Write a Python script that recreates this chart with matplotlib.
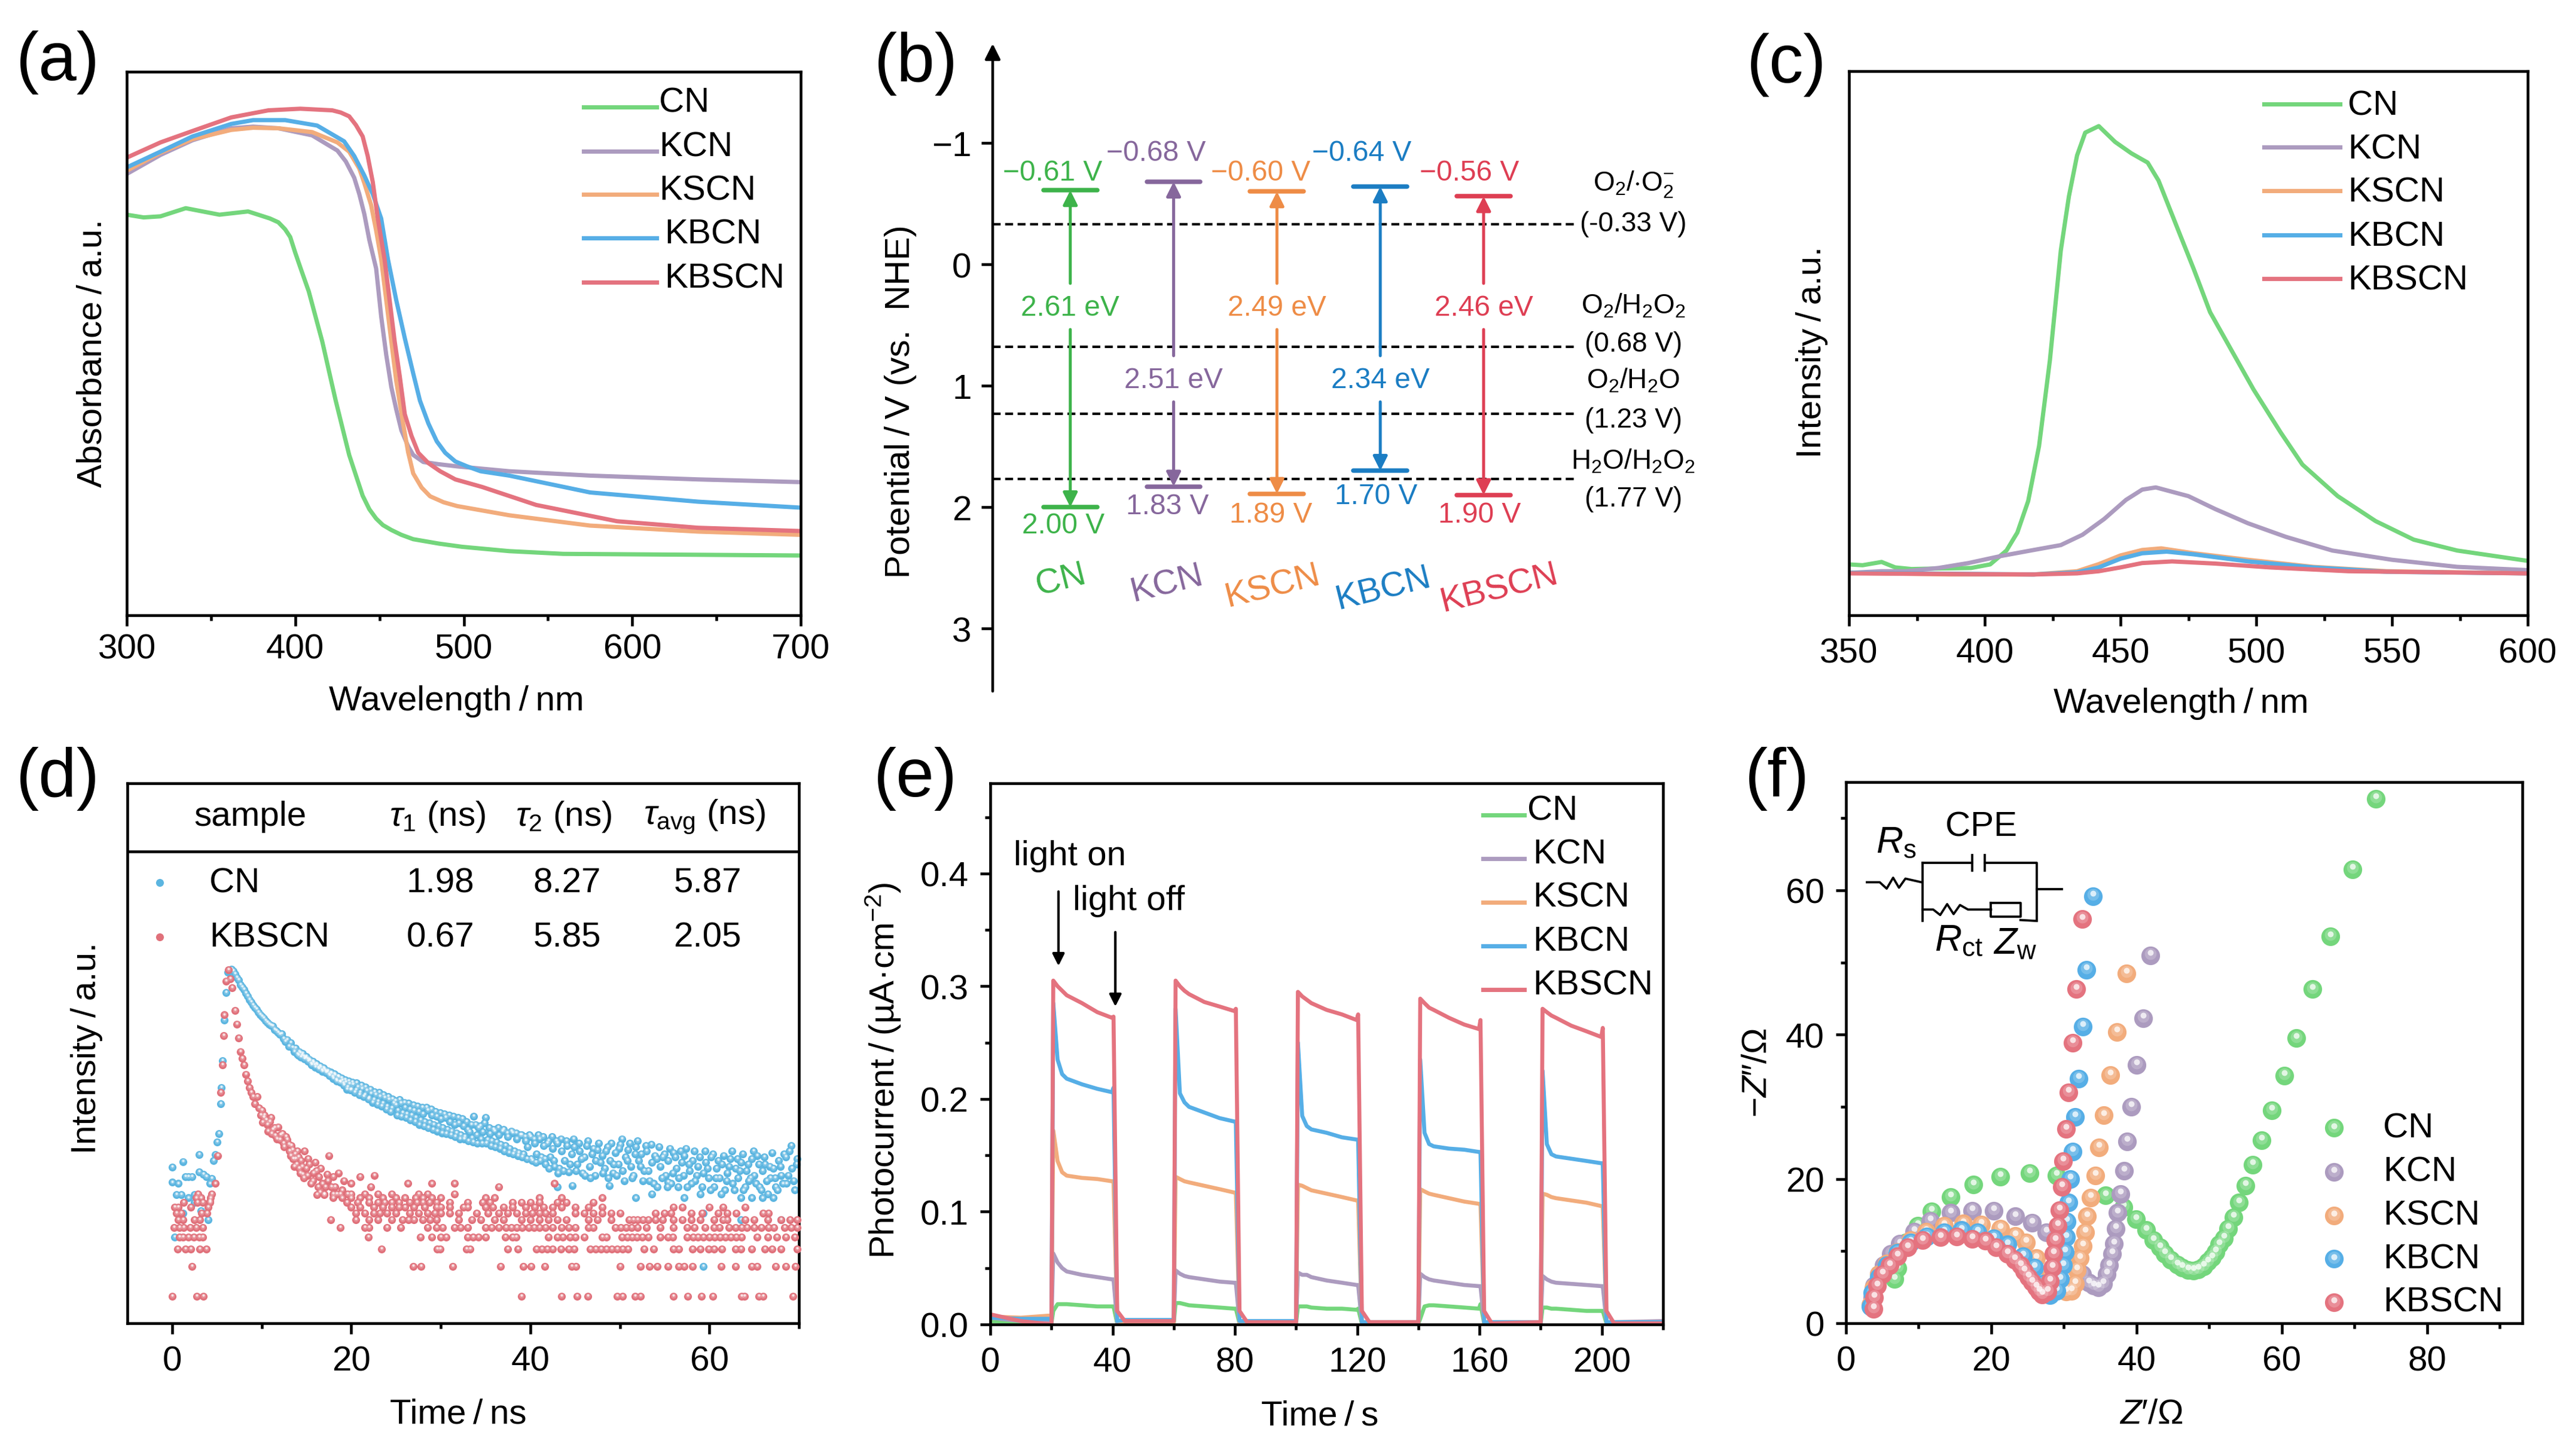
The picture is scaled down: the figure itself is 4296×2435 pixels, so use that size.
import matplotlib
matplotlib.use('Agg')
import matplotlib.pyplot as plt
from matplotlib.ticker import MultipleLocator, NullFormatter, NullLocator
from matplotlib.transforms import ScaledTranslation

plt.rcParams['font.family'] = ['Liberation Sans', 'DejaVu Sans']
plt.rcParams['font.size'] = 14
plt.rcParams['mathtext.fontset'] = 'custom'
plt.rcParams['mathtext.rm'] = 'Liberation Sans'
plt.rcParams['mathtext.it'] = 'Liberation Sans:italic'
plt.rcParams['mathtext.bf'] = 'Liberation Sans:bold'
plt.rcParams['axes.linewidth'] = 1.1

W, H = 4296, 2436
SAMPLES = ['CN', 'KCN', 'KSCN', 'KBCN', 'KBSCN']
LIGHT = ['#74D67C', '#AC9BBF', '#F2AC7C', '#56AEE6', '#E4737F']
DARK = ['#3DB34A', '#86679C', '#EE8C46', '#1B7DC3', '#DE3E53']

# (a) absorbance
abs_cn_x = [300, 310, 320, 335, 355, 372, 385, 390, 394, 397, 400, 403, 408, 416, 424, 432, 440, 444, 448, 452, 457, 463, 470, 485, 499, 527, 559, 607, 700]
abs_cn_y = [73.7, 73.2, 73.4, 74.9, 73.7, 74.3, 73.0, 72.3, 71.0, 69.6, 66.7, 64.0, 59.6, 50.4, 39.5, 29.5, 22.0, 19.5, 17.8, 16.6, 15.7, 14.8, 14.0, 13.2, 12.6, 11.8, 11.3, 11.2, 11.0]
abs_kcn_x = [300, 320, 339, 362, 375, 390, 410, 425, 430, 435, 438, 441, 444, 448, 451, 454, 457, 460, 463, 467, 470, 476, 485, 496, 527, 575, 639, 700]
abs_kcn_y = [81.2, 84.7, 87.4, 89.6, 89.9, 89.6, 88.3, 85.5, 83.5, 80.5, 77.5, 73.8, 69.0, 63.8, 55.0, 47.9, 42.0, 37.8, 34.0, 31.1, 29.5, 28.2, 27.8, 27.4, 26.5, 25.7, 25.0, 24.5]
abs_kscn_x = [300, 320, 339, 362, 375, 390, 410, 425, 432, 438, 441, 445, 448, 451, 454, 457, 460, 464, 467, 470, 475, 480, 488, 496, 527, 575, 639, 700]
abs_kscn_y = [81.8, 85.1, 87.6, 89.3, 89.7, 89.6, 88.9, 87.0, 85.3, 82.2, 79.5, 75.5, 70.8, 65.5, 58.0, 50.4, 43.0, 35.3, 30.0, 26.1, 23.5, 21.9, 20.8, 20.1, 18.4, 16.5, 15.4, 14.8]
abs_kbcn_x = [300, 320, 339, 362, 375, 394, 413, 429, 435, 441, 446, 451, 455, 460, 465, 470, 474, 479, 484, 489, 495, 502, 510, 527, 575, 639, 700]
abs_kbcn_y = [82.4, 85.3, 88.1, 90.4, 91.1, 91.1, 90.1, 87.2, 84.5, 80.9, 77.5, 73.0, 65.5, 57.9, 51.0, 44.5, 39.5, 35.3, 32.0, 29.9, 28.3, 27.4, 26.5, 25.7, 22.6, 20.9, 19.8]
abs_kbscn_x = [300, 320, 339, 362, 384, 403, 422, 427, 432, 436, 440, 443, 446, 449, 453, 456, 459, 462, 465, 469, 473, 479, 486, 495, 511, 543, 591, 639, 700]
abs_kbscn_y = [84.2, 87.0, 89.1, 91.6, 92.9, 93.2, 92.9, 92.5, 91.8, 90.2, 88.1, 84.5, 79.7, 73.0, 65.5, 58.0, 50.4, 44.0, 37.0, 33.0, 29.9, 28.0, 26.5, 25.0, 23.6, 20.3, 17.3, 16.1, 15.5]

# (b) band structure
cb_edge = [-0.61, -0.68, -0.60, -0.64, -0.56]
vb_edge = [2.00, 1.83, 1.89, 1.70, 1.90]
band_gap = ['2.61 eV', '2.51 eV', '2.49 eV', '2.34 eV', '2.46 eV']
redox_levels = [-0.33, 0.68, 1.23, 1.77]

# (c) PL
pl_cn_x = [350, 355, 362, 367, 373, 383, 395, 402, 408, 412, 416, 420, 424, 428, 431, 434, 437, 442, 448, 454, 460, 464, 471, 477, 483, 491, 499, 509, 517, 530, 544, 558, 574, 600]
pl_cn_y = [9.35, 9.2, 9.8, 8.8, 8.5, 8.6, 8.7, 9.35, 11.9, 15.2, 21.0, 31.1, 46.9, 67.0, 77.0, 84.5, 88.7, 89.9, 87.0, 84.9, 83.2, 79.9, 71.1, 63.6, 55.7, 48.6, 41.5, 33.6, 27.7, 21.9, 17.3, 13.9, 11.9, 10.0]
pl_kcn_x = [350, 362, 371, 383, 394, 406, 418, 428, 436, 444, 452, 458, 463, 475, 485, 497, 511, 528, 550, 574, 600]
pl_kcn_y = [7.8, 8.1, 8.1, 8.7, 9.6, 10.9, 12.0, 12.9, 14.8, 17.7, 21.2, 23.1, 23.5, 21.9, 19.5, 16.9, 14.4, 11.9, 10.2, 8.9, 8.3]
pl_kscn_x = [350, 387, 418, 434, 442, 450, 458, 465, 477, 497, 521, 548, 600]
pl_kscn_y = [7.8, 7.5, 7.5, 8.1, 9.4, 11.0, 12.0, 12.3, 11.4, 10.2, 8.9, 8.1, 7.7]
pl_kbcn_x = [350, 418, 434, 442, 450, 458, 467, 477, 497, 521, 548, 600]
pl_kbcn_y = [7.8, 7.5, 7.9, 8.8, 10.4, 11.4, 11.7, 11.2, 9.9, 8.8, 8.0, 7.7]
pl_kbscn_x = [350, 418, 434, 442, 450, 458, 469, 485, 505, 534, 600]
pl_kbscn_y = [7.7, 7.5, 7.7, 8.1, 8.8, 9.6, 9.9, 9.5, 8.8, 8.1, 7.7]

# (d) TRPL counts, (time, counts)
cn_points = [
    (0, 14.4), (0, 20.5), (0.3, 4), (0.5, 10.8), (0.7, 14), (1, 10.8), (1.2, 7), (1.2, 23.5), (1.5, 16.5), (1.8, 16.5),
    (1.8, 10), (2.2, 16.5), (2.5, 9), (2.5, 10.8), (3, 27.6), (3, 18.4), (3.2, 7.4), (3.5, 17.4), (3.8, 16.5), (4, 6),
    (4.2, 14), (4.4, 15.7), (4.6, 24), (4.8, 27.6), (5, 37), (5.2, 45), (5.4, 91), (5.5, 132), (5.6, 250), (5.8, 650),
    (6, 1240), (6.2, 2000), (6.4, 2100), (6.6, 2130), (6.8, 2050), (7, 1900), (7.2, 1750), (7.4, 1650), (7.6, 1480), (7.8, 1400),
    (8, 1330), (8.2, 1220), (8.4, 1130), (8.6, 1050), (8.8, 990), (9, 920), (9.2, 870), (9.4, 830), (9.6, 780), (9.8, 740),
    (10, 700), (10.2, 680), (10.4, 640), (10.6, 610), (10.8, 590), (11, 570), (11.2, 560), (11.4, 520), (11.6, 500), (11.8, 480),
    (12, 460), (12.2, 470), (12.4, 420), (12.6, 390), (12.8, 410), (13, 350), (13.2, 380), (13.4, 340), (13.6, 310), (13.8, 335),
    (14, 290), (14.2, 310), (14.4, 270), (14.6, 295), (14.8, 260), (15, 275), (15.2, 245), (15.4, 250), (15.6, 225), (15.8, 240),
    (16, 215), (16.2, 225), (16.4, 205), (16.6, 215), (16.8, 195), (17, 205), (17.2, 188), (17.4, 198), (17.6, 175), (17.8, 185),
    (18, 165), (18.2, 178), (18.4, 155), (18.6, 170), (18.8, 150), (19, 158), (19.2, 140), (19.4, 150), (19.6, 135), (19.8, 145),
    (20, 128), (20.2, 142), (20.5, 125), (20.7, 135), (21, 118), (21.2, 130), (21.5, 112), (21.7, 124), (22, 105), (22.2, 116),
    (22.5, 100), (22.7, 112), (23, 96), (23.2, 108), (23.5, 92), (23.7, 104), (24, 86), (24.2, 100), (24.5, 82), (24.7, 92),
    (25, 88), (25.2, 78), (25.5, 92), (25.7, 74), (26, 84), (26.2, 72), (26.5, 80), (26.7, 70), (27, 78), (27.2, 66),
    (27.5, 76), (27.7, 62), (28, 72), (28.2, 60), (28.5, 78), (28.7, 58), (29, 70), (29.2, 56), (29.5, 68), (29.7, 54),
    (30, 64), (30.2, 52), (30.5, 66), (30.7, 50), (31, 60), (31.2, 48), (31.5, 56), (31.7, 46), (32, 58), (32.2, 44),
    (32.5, 54), (32.7, 42), (33, 50), (33.2, 47), (33.5, 41), (33.7, 68), (34, 44), (34.2, 52), (34.5, 40), (34.7, 47),
    (35, 66), (35.2, 39), (35.5, 45), (35.7, 38), (36, 48), (36.2, 37), (36.5, 44), (36.7, 35), (37, 50), (37.2, 34),
    (37.5, 42), (37.7, 32), (38, 46), (38.2, 30), (38.5, 40), (38.7, 29), (39, 44), (39.2, 28), (39.5, 38), (39.7, 33),
    (40, 42), (40.2, 24), (40.5, 36), (40.7, 28), (41, 40), (41.2, 26), (41.5, 34), (41.7, 22), (42, 38), (42.2, 26),
    (42.5, 32), (42.7, 21), (43, 36), (43.2, 20), (43, 13), (43.5, 30), (43.8, 24), (44, 38), (44.3, 18.5), (44.6, 28),
    (44.7, 13.4), (44.9, 33), (45.2, 22), (45.5, 30), (45.8, 18), (46, 26), (46.3, 34), (46.6, 21), (46.9, 28), (47.2, 17),
    (47.5, 31), (47.8, 23), (48, 27), (48.3, 20), (48.6, 33), (48.8, 13.4), (48.9, 24), (49.2, 18), (49.5, 29), (49.8, 22),
    (50, 35), (50.3, 19), (50.6, 26), (50.9, 31), (51.2, 21), (51.5, 17), (51.8, 33), (51.8, 10), (52.1, 24), (52.4, 28),
    (52.7, 19), (53, 30), (53.3, 15), (53.6, 23), (53.6, 11), (53.9, 27), (54.2, 13), (54.5, 21), (54.8, 26), (55.1, 17),
    (55.4, 24), (55.4, 14.5), (55.7, 14), (56, 29), (56.3, 20), (56.6, 16), (56.9, 23), (57.2, 27), (57.2, 10), (57.5, 13),
    (57.8, 19), (58.1, 24), (58.4, 15), (58.7, 21), (59, 11), (59.3, 18), (59.3, 2), (59.3, 7), (59.6, 23), (59.9, 16),
    (60.2, 26), (60.5, 13), (60.8, 20), (61.1, 16), (61.4, 22), (61.7, 12), (62, 18), (62.3, 25), (62.6, 14), (62.9, 20),
    (63.2, 16), (63.5, 23), (63.5, 10), (63.5, 6), (63.8, 12), (64.1, 19), (64.4, 15), (64.7, 25), (64.7, 10), (65, 17),
    (65.3, 27), (65.6, 13), (65.9, 19), (65.9, 10), (66.2, 22), (66.5, 11), (66.8, 16), (67.1, 20), (67.1, 10), (67.4, 13),
    (67.7, 24), (68, 17), (68, 6), (68.3, 28), (68.6, 14), (68.9, 30), (69.2, 20), (69.5, 12), (69.8, 25),
]
# second pass over the band, upper and lower edges
cn_band_edges = [
    (14.1, 282), (14.3, 300), (14.5, 282), (14.7, 275), (14.9, 268), (15.1, 262), (15.3, 258), (15.5, 232), (15.7, 246), (15.9, 228),
    (16.1, 232), (16.3, 212), (16.5, 220), (16.7, 200), (16.9, 210), (17.1, 198), (17.3, 192), (17.5, 182), (17.7, 190), (17.9, 172),
    (18.1, 184), (18.3, 160), (18.5, 174), (18.7, 152), (18.9, 166), (19.1, 146), (19.3, 160), (19.5, 128), (19.7, 155), (19.9, 125),
    (20.1, 150), (20.4, 118), (20.6, 148), (20.9, 112), (21.1, 140), (21.4, 108), (21.6, 134), (21.9, 102), (22.1, 128), (22.4, 94),
    (22.6, 120), (22.9, 90), (23.1, 118), (23.4, 86), (23.6, 112), (23.9, 80), (24.1, 108), (24.4, 76), (24.6, 102), (24.9, 98),
    (25.1, 70), (25.4, 100), (25.6, 68), (25.9, 94), (26.1, 66), (26.4, 92), (26.6, 62), (26.9, 88), (27.1, 60), (27.4, 86),
    (27.6, 56), (27.9, 84), (28.1, 54), (28.4, 84), (28.6, 52), (28.9, 80), (29.1, 50), (29.4, 76), (29.6, 48), (29.9, 74),
    (30.1, 46), (30.4, 72), (30.6, 45), (30.9, 70), (31.1, 44), (31.4, 68), (31.6, 42), (31.9, 66), (32.1, 40), (32.4, 64),
    (32.6, 40), (32.9, 60), (33.1, 38), (33.4, 56), (33.6, 37), (33.9, 56), (34.1, 36), (34.4, 54), (34.6, 36), (34.9, 58),
    (35.1, 36), (35.4, 52), (35.6, 34), (35.9, 50), (36.1, 33), (36.4, 52), (36.6, 32), (36.9, 48), (37.1, 30), (37.4, 46),
    (37.6, 29), (37.9, 48), (38.1, 28), (38.4, 46), (38.6, 27), (38.9, 44), (39.1, 26), (39.4, 42), (39.6, 25), (39.9, 44),
    (40.1, 25), (40.4, 40), (40.6, 23), (40.9, 44), (41.1, 24), (41.4, 42), (41.6, 25), (41.9, 36), (42.1, 20), (42.4, 42),
    (42.6, 24), (42.9, 38), (43.1, 18), (43.4, 40), (43.7, 19), (44.1, 34), (44.4, 22), (44.8, 40), (45.1, 19), (45.4, 36),
    (45.7, 25), (46.1, 17), (46.4, 38), (46.7, 16), (47, 32), (47.3, 24), (47.6, 36), (48.1, 18), (48.4, 30), (48.7, 16),
    (49, 36), (49.3, 22), (49.6, 17), (49.9, 32), (50.2, 40), (50.5, 15), (50.8, 24), (51.1, 36), (51.4, 16), (51.7, 28),
    (52, 38), (52.3, 21), (52.6, 15), (52.9, 34), (53.2, 19), (53.5, 35), (53.8, 14), (54.1, 25), (54.4, 33), (54.7, 16),
    (55, 28), (55.3, 13), (55.6, 32), (55.9, 18), (56.2, 26), (56.5, 13), (56.8, 30), (57.1, 17), (57.4, 32), (57.7, 22),
    (58, 14), (58.3, 30), (58.6, 17), (58.9, 26), (59.2, 13), (59.5, 30), (59.8, 20), (60.1, 12), (60.4, 28), (60.7, 16),
    (61, 24), (61.3, 11), (61.6, 27), (61.9, 15), (62.2, 21), (62.5, 30), (62.8, 12), (63.1, 25), (63.4, 19), (63.7, 28),
    (64, 13), (64.3, 22), (64.6, 16), (64.9, 30), (65.2, 14), (65.5, 22), (65.8, 12), (66.1, 26), (66.4, 15), (66.7, 21),
    (67, 29), (67.3, 16), (67.6, 12), (67.9, 21), (68.2, 14), (68.5, 26), (68.8, 17), (69.1, 34), (69.4, 15), (69.7, 22),
]
kbscn_points = [
    (4.2, 9.2), (4.8, 14), (5.1, 27), (5.4, 119), (5.6, 225), (5.75, 450), (5.8, 730), (6, 1620), (6.3, 2100), (6.5, 1700),
    (6.7, 1380), (7, 810), (7.2, 590), (7.4, 427), (7.6, 310), (7.8, 265), (8, 225), (8.2, 182), (8.4, 155), (8.6, 132),
    (8.8, 119), (9, 107), (9.2, 91), (9.5, 107), (9.7, 82), (9.9, 70), (10, 78), (10.1, 59), (10.2, 66), (10.3, 70),
    (10.5, 62), (10.6, 56), (10.7, 48), (10.9, 60), (11, 66), (11.1, 45), (11.2, 50), (11.4, 52), (11.5, 43), (11.7, 40),
    (11.8, 53), (12, 39), (12.1, 44), (12.3, 45), (12.4, 36), (12.5, 33), (12.7, 42), (12.8, 39), (13, 35), (13.1, 30),
    (13.2, 27), (13.3, 34), (13.4, 31), (13.5, 25), (13.6, 21), (13.7, 28), (13.8, 25), (13.9, 22), (14, 30), (14.1, 26),
    (14.2, 20), (14.3, 18), (14.4, 24), (14.5, 21), (14.6, 17.4), (14.7, 16), (14.8, 30), (15, 20), (15.1, 17), (15.2, 25),
    (15.3, 22), (15.5, 14), (15.7, 15), (15.8, 18), (16, 23), (16.1, 19), (16.2, 10.8), (16.3, 13), (16.4, 16.5), (16.5, 11.5),
    (16.6, 20), (16.8, 14), (17, 10.8), (17.1, 13), (17.3, 17.4), (17.4, 15), (17.5, 27), (17.8, 13), (18, 16.5), (18.2, 13),
    (18.4, 11), (18.6, 18), (19, 12), (19.2, 15), (19.6, 11), (20, 14), (21, 16.5), (22.6, 17), (22.2, 13), (26.3, 14),
    (29, 14), (31.5, 14), (36.5, 13), (42.7, 14),
]
kbscn_level1 = [0, 2.75, 3.5, 39, 43.5, 45.2, 46.4, 49.7, 50.3, 51.7, 52.3, 56, 57.6, 59.1, 60.4, 63.6, 63.9, 65.5, 66, 69.3]
kbscn_level2 = [2.2, 26.9, 27.8, 31.3, 36.7, 39.2, 40.1, 41.6, 44.6, 45.1, 50, 52.3, 53.3, 54.2, 55.4, 56.6, 57.2, 58.1, 61.3, 62.9, 64.7, 65.3, 67.4, 68.5, 69.6]
kbscn_level3 = [0.6, 1.5, 2.1, 3.1, 3.8, 23.4, 29.6, 29.9, 32.9, 33.3, 37.5, 38.6, 40.7, 41.3, 41.9, 42.5, 43.4, 44.3, 44.9, 46.7, 47.3, 47.9, 48.5, 49.1, 49.7, 50.3, 50.9, 52.7, 53.8, 56, 56.6, 58.1, 59, 59.9, 60.5, 61.4, 62.9, 63.5, 64.7, 66.2, 67, 68, 69.8]
kbscn_level4 = [0.8, 1.2, 1.8, 2.4, 3, 3.4, 21.9, 27.7, 29, 30, 30.6, 33, 33.6, 34.2, 35, 37.2, 38, 38.4, 42, 43, 43.6, 44.4, 45, 46, 48, 48.5, 50.2, 50.8, 51.4, 51.9, 52.5, 53.2, 54.5, 55.4, 55.9, 57.5, 58.2, 58.7, 59.3, 60, 60.6, 61.2, 61.8, 62.4, 63, 63.6, 65.3, 66.5, 67.5, 68.5, 69.5]
kbscn_level5 = [0.2, 0.8, 1.3, 2, 2.7, 3.4, 18.8, 21.5, 22, 24, 25.5, 28.5, 29.5, 30.2, 31.5, 32.2, 33, 35, 35.7, 36.5, 37.3, 37.9, 38.5, 39.1, 39.8, 40.4, 41, 41.7, 42.5, 43.5, 44.3, 45, 46.5, 47, 49.5, 50.1, 50.7, 51.3, 52, 53, 54.5, 56, 57.5, 58.3, 59.5, 60.5, 61.1, 62.2, 62.9, 63.6, 64.2, 65, 65.8, 66.6, 67.2, 68.4, 69.1, 69.8]
kbscn_level6 = [0.7, 1.2, 2.5, 3.1, 17.7, 20.5, 22, 23, 24.5, 25.7, 26.4, 27, 28, 28.8, 29.5, 32, 33.5, 34.5, 36, 37, 39, 40, 41, 42, 43, 44, 46.5, 47.5, 49, 51, 51.5, 52, 52.6, 53.2, 54, 54.8, 56, 57, 58, 59, 60.5, 61.5, 62, 64, 65, 66.5, 68, 69, 69.8]
kbscn_level7 = [0.5, 1, 3.3, 3.9, 20.5, 21.5, 22.5, 23.2, 24, 25, 26.5, 27.5, 28.5, 29.3, 30, 31, 32, 34, 35.3, 36.5, 37.5, 38.5, 39.5, 40.2, 41, 41.7, 42.5, 45, 46, 47, 48, 49, 50, 54, 55, 55.7, 58, 59.2, 61, 62, 63, 66, 66.6]
kbscn_level8 = [0.3, 0.7, 2.1, 4, 20, 21, 22.5, 23.5, 24.5, 25.3, 26, 27, 28.2, 29.5, 30, 31, 32.5, 33, 35, 35.8, 37, 38, 39.5, 40.5, 41.5, 42.5, 43.5, 45, 46.5, 48, 56, 57, 60, 61.5, 64]
kbscn_level9 = [1.3, 2.8, 3.4, 4.2, 19.5, 20.7, 22, 23, 23.7, 24.5, 25.3, 26.5, 27.3, 28, 28.7, 29.5, 31, 33, 34.7, 35.5, 38, 39, 40, 41, 43, 44, 47]
kbscn_level10 = [2.7, 3.2, 4.3, 18, 19, 20, 21, 22, 23.5, 25, 26, 27.2, 28, 29, 30, 35, 36, 41, 43.5, 48]
kbscn_level11 = [2.9, 4.4, 17, 18, 18.8, 20, 21.5, 23, 24.5, 27.5, 28.5, 31.5]
kbscn_levels = [kbscn_level1, kbscn_level2, kbscn_level3, kbscn_level4, kbscn_level5, kbscn_level6,
                kbscn_level7, kbscn_level8, kbscn_level9, kbscn_level10, kbscn_level11]
table_rows = ['CN', 'KBSCN']
tau1 = ['1.98', '0.67']
tau2 = ['8.27', '5.85']
tau_avg = ['5.87', '2.05']

# (e) photocurrent
pc_time = [0, 10,
           20, 20.6, 22, 23.5, 25, 30, 35, 39.8, 40.3, 41.5, 44,
           60, 60.6, 62, 63.5, 65, 70, 75, 79.8, 80.3, 81.5, 84,
           100, 100.6, 102, 103.5, 105, 110, 115, 119.8, 120.3, 121.5, 124,
           140, 140.6, 142, 143.5, 145, 150, 155, 159.8, 160.3, 161.5, 164,
           180, 180.6, 182, 183.5, 185, 190, 195, 199.8, 200.3, 201.5, 204,
           220]
pc_cn = [.003, .001,
         .001, .012, .018, .018, .018, .017, .016, .016, .016, .001, .001,
         .001, .019, .019, .018, .017, .016, .015, .014, .014, .001, .001,
         .001, .016, .016, .016, .015, .014, .014, .013, .014, .001, .001,
         .001, .005, .016, .017, .017, .016, .015, .014, .018, .001, .001,
         .001, .015, .015, .014, .014, .013, .012, .012, .012, .001, .001,
         .001]
pc_kcn = [.006, .003,
          .002, .063, .055, .050, .047, .044, .042, .040, .040, .002, .002,
          .002, .048, .045, .043, .042, .040, .038, .037, .037, .002, .002,
          .002, .046, .044, .044, .042, .039, .037, .035, .035, .002, .002,
          .002, .045, .042, .040, .039, .037, .035, .034, .034, .002, .002,
          .002, .043, .040, .038, .037, .036, .035, .034, .034, .002, .002,
          .003]
pc_kscn = [.007, .006,
           .008, .172, .145, .135, .132, .130, .129, .127, .127, .003, .002,
           .002, .131, .129, .127, .126, .123, .120, .117, .117, .002, .002,
           .002, .124, .123, .121, .119, .116, .113, .110, .110, .002, .002,
           .002, .120, .118, .116, .115, .112, .109, .107, .107, .002, .002,
           .002, .116, .115, .113, .112, .110, .108, .105, .105, .002, .002,
           .002]
pc_kbcn = [.006, .005,
           .005, .285, .235, .222, .218, .213, .209, .206, .210, .003, .004,
           .004, .280, .205, .197, .193, .188, .183, .180, .180, .003, .003,
           .003, .250, .185, .176, .173, .170, .166, .164, .164, .002, .002,
           .002, .235, .170, .160, .158, .156, .155, .153, .153, .002, .002,
           .002, .225, .160, .151, .149, .147, .145, .143, .143, .002, .002,
           .002]
pc_kbscn = [.009, .003,
            .000, .305, .300, .296, .292, .285, .277, .272, .273, .012, .003,
            .003, .305, .300, .296, .293, .286, .282, .278, .280, .012, .002,
            .002, .295, .291, .288, .285, .279, .275, .270, .275, .012, .002,
            .002, .289, .285, .281, .279, .272, .266, .262, .270, .012, .001,
            .002, .280, .277, .274, .272, .265, .260, .255, .263, .012, .001,
            .001]

# (f) Nyquist, (Z', -Z'')
eis_cn = [(72.9, 72.7), (69.7, 62.9), (66.7, 53.6), (64.2, 46.3), (62, 39.5), (60.3, 34.3), (58.6, 29.5), (57.2, 25.4), (56, 22), (55, 19.1),
          (54.1, 16.7), (53.3, 14.7), (52.6, 13.1), (52, 11.8), (51.4, 10.9), (50.9, 9.9), (50.4, 9.1), (49.8, 8.5), (49.2, 7.9), (48.5, 7.5),
          (47.8, 7.3), (47.1, 7.4), (46.3, 7.7), (45.6, 8.1), (44.7, 8.8), (43.9, 9.6), (43.2, 10.5), (42.3, 11.5), (41.3, 12.9), (39.9, 14.4),
          (38.2, 16.1), (35.7, 17.7), (29, 20.5), (25.3, 20.8), (21.2, 20.3), (17.5, 19.2), (14.4, 17.5), (11.8, 15.5), (9.9, 13.5), (8.2, 11.2),
          (7.1, 7.6), (6.7, 6.1)]
eis_kcn = [(41.9, 51), (40.9, 42.3), (40, 35.8), (39.3, 30), (38.7, 25.2), (38.3, 21.1), (37.8, 17.9), (37.4, 15.3), (37.1, 13.1), (36.9, 11),
           (36.6, 9.6), (36.2, 8), (35.9, 6.8), (35.4, 5.5), (34.7, 5), (34.1, 5.2), (33.4, 5.6), (32.5, 6.8), (27.6, 12.6), (25.6, 13.9),
           (23.3, 14.8), (20.3, 15.6), (17.4, 15.6), (14.4, 15.3), (11.6, 14.2), (9.4, 12.7), (7.4, 11), (6.2, 9.6), (5.2, 8), (4.5, 6.8),
           (3.9, 5.2), (3.6, 3.6)]
eis_kscn = [(38.6, 48.5), (37.3, 40.4), (36.4, 34.4), (35.5, 28.8), (34.8, 24.4), (34.3, 20.5), (33.7, 17.4), (33.2, 14.8), (32.9, 12.6), (32.6, 10.7),
            (32.2, 9), (31.8, 7.4), (31.5, 5.5), (31, 4.5), (30.3, 4.4), (29.2, 4.9), (28.1, 6.4), (26.2, 9), (24.8, 11.2), (23.3, 12.1),
            (21.2, 13.1), (18.6, 13.7), (16.1, 13.8), (13.5, 13.5), (11, 12.7), (8.9, 11.5), (7.1, 9.9), (5.6, 8.3), (4.5, 6.8), (3.8, 4.9),
            (3.4, 2.6)]
eis_kbcn = [(34, 59.2), (33.1, 49), (32.6, 41.1), (32, 33.9), (31.5, 28.6), (31.2, 23.8), (30.9, 20), (30.6, 16.7), (30.4, 14.1), (30.3, 11.9),
            (30.1, 9.9), (29.9, 8), (29.5, 6.1), (29, 4.5), (28.1, 3.9), (27.2, 5.5), (25.9, 7.7), (24.4, 9.3), (22.2, 10.9), (20.3, 11.8),
            (18.1, 12.6), (15.9, 12.9), (13.5, 12.6), (11.1, 12), (8.9, 11.2), (7.1, 9.8), (5.6, 8), (4.5, 6.4), (3.6, 4.2), (3.4, 2.3)]
eis_kbscn = [(32.5, 56), (31.7, 46.3), (31.2, 38.9), (30.6, 32), (30.3, 26.9), (29.9, 22.5), (29.7, 18.9), (29.4, 15.7), (29.1, 13.5), (28.8, 11.5),
             (28.6, 9.6), (28.4, 7.7), (28.1, 5.8), (27.7, 4.4), (27, 4), (26.6, 4.4), (26.2, 5), (25.6, 5.7), (25.1, 6.4), (24.5, 7.2), (24, 8),
             (23.2, 8.8), (22.2, 9.6), (20.7, 10.5), (19.2, 11.4), (17.4, 11.7), (15.2, 12), (13, 11.9), (10.5, 11.5), (8.5, 10.5), (7.1, 9.3),
             (6, 8), (5, 6.8), (4.3, 5.2), (3.9, 3.6), (3.8, 2)]


fig = plt.figure(figsize=(W / 300, H / 300), dpi=300)


def px_axes(left, right, top, bottom):
    return fig.add_axes([left / W, 1 - bottom / H, (right - left) / W, (bottom - top) / H])


def ftext(x, y, s, **kw):
    fig.text(x / W, 1 - y / H, s, ha='center', va='center', **kw)


def style(ax, xmajor, xminor, ymajor=None, yminor=None, pad=4.5):
    ax.xaxis.set_major_locator(MultipleLocator(xmajor))
    ax.xaxis.set_minor_locator(MultipleLocator(xminor))
    if ymajor is None:
        ax.yaxis.set_major_locator(NullLocator())
    else:
        ax.yaxis.set_major_locator(MultipleLocator(ymajor))
        ax.yaxis.set_minor_locator(MultipleLocator(yminor))
    ax.tick_params(which='major', length=4.2, width=1.1, pad=pad)
    ax.tick_params(which='minor', length=2.2, width=1.1)


def line_legend(ax, x0, x1, ys, xt, yt):
    for i, name in enumerate(SAMPLES):
        ax.plot([x0, x1], [ys[i], ys[i]], color=LIGHT[i], lw=1.7, transform=ax.transAxes)
        ax.text(xt[i], yt[i], name, transform=ax.transAxes, ha='left', va='center')


def spheres(ax, x, y, color, size, **kw):
    ax.scatter(x, y, s=size, color=color, linewidths=0, **kw)
    shift = ax.transData + ScaledTranslation(0, 0.09 * size ** 0.5 / 72, fig.dpi_scale_trans)
    ax.scatter(x, y, s=size * 0.4, color='white', alpha=0.2, linewidths=0, transform=shift, **kw)
    shift = ax.transData + ScaledTranslation(0, 0.15 * size ** 0.5 / 72, fig.dpi_scale_trans)
    ax.scatter(x, y, s=size * 0.1, color='white', alpha=0.75, linewidths=0, transform=shift, **kw)


# (a)
ax = px_axes(212, 1339, 121, 1030)
abs_x = [abs_cn_x, abs_kcn_x, abs_kscn_x, abs_kbcn_x, abs_kbscn_x]
abs_y = [abs_cn_y, abs_kcn_y, abs_kscn_y, abs_kbcn_y, abs_kbscn_y]
for i in range(5):
    ax.plot(abs_x[i], abs_y[i], color=LIGHT[i], lw=1.7)
ax.set_xlim(300, 700)
ax.set_ylim(0, 100)
style(ax, 100, 50, pad=2.8)
line_legend(ax, 0.6775, 0.7866, [.9347, .8536, .7741, .6937, .6126],
            [.790, .790, .790, .798, .798], [.943, .862, .782, .701, .620])

# (b)
ax = px_axes(1660, 2633, 74, 1157)
ax.set_xlim(-0.751, 4.88)
ax.set_ylim(3.517, -1.818)
for s in ['top', 'right', 'bottom', 'left']:
    ax.spines[s].set_visible(False)
ax.set_xticks([])
ax.set_yticks([-1, 0, 1, 2, 3])
ax.tick_params(axis='y', length=4.5, width=1.1, pad=4)
ax.annotate('', xy=(0, 1.0), xytext=(0, 0), xycoords='axes fraction', textcoords='axes fraction',
            arrowprops=dict(arrowstyle='-|>', color='black', lw=1.1, mutation_scale=13, shrinkA=0, shrinkB=0))
for y in redox_levels:
    ax.plot([-0.751, 4.88], [y, y], color='black', lw=1.0, ls=(0, (3.2, 1.8)), zorder=1)
cb_label_x = [-0.17, 0.83, 1.84, 2.82, 3.86]
cb_label_y = [-0.755, -0.917, -0.755, -0.917, -0.755]
vb_label_x = [-0.07, 0.94, 1.94, 2.96, 3.96]
vb_label_y = [2.15, 1.99, 2.06, 1.91, 2.06]
gap_label_y = [0.357, 0.953, 0.357, 0.953, 0.357]
for i in range(5):
    c = DARK[i]
    ax.plot([i - 0.26, i + 0.26], [cb_edge[i], cb_edge[i]], color=c, lw=1.8, solid_capstyle='round', zorder=3)
    ax.plot([i - 0.26, i + 0.26], [vb_edge[i], vb_edge[i]], color=c, lw=1.8, solid_capstyle='round', zorder=3)
    ax.text(cb_label_x[i], cb_label_y[i], '\u2212%.2f V' % abs(cb_edge[i]), color=c, ha='center', va='center', fontsize=11.5)
    ax.text(vb_label_x[i], vb_label_y[i], '%.2f V' % vb_edge[i], color=c, ha='center', va='center', fontsize=11.5)
    ax.text(i, gap_label_y[i], band_gap[i], color=c, ha='center', va='center', fontsize=11.5)
    up_end = gap_label_y[i] - 0.2
    low_end = gap_label_y[i] + 0.18
    ax.annotate('', xy=(i, cb_edge[i]), xytext=(i, up_end),
                arrowprops=dict(arrowstyle='-|>', color=c, lw=1.2, mutation_scale=12, shrinkA=0, shrinkB=0))
    ax.annotate('', xy=(i, vb_edge[i]), xytext=(i, low_end),
                arrowprops=dict(arrowstyle='-|>', color=c, lw=1.2, mutation_scale=12, shrinkA=0, shrinkB=0))
name_x = [-0.09, 0.935, 1.96, 3.03, 4.15]
name_y = [2.6, 2.63, 2.65, 2.67, 2.67]
for i in range(5):
    ax.text(name_x[i], name_y[i], SAMPLES[i], color=DARK[i], rotation=14, ha='center', va='center', fontsize=14)
redox_text = [r'O$_2$/$\cdot$O$_2^{-}$', '(-0.33 V)', r'O$_2$/H$_2$O$_2$', '(0.68 V)',
              r'O$_2$/H$_2$O', '(1.23 V)', r'H$_2$O/H$_2$O$_2$', '(1.77 V)']
redox_y = [-0.66, -0.336, 0.34, 0.657, 0.953, 1.28, 1.62, 1.93]
for s, y in zip(redox_text, redox_y):
    ax.text(5.45, y, s, ha='center', va='center', fontsize=11, clip_on=False)

# (c)
ax = px_axes(3092, 4227, 120, 1030)
pl_x = [pl_cn_x, pl_kcn_x, pl_kscn_x, pl_kbcn_x, pl_kbscn_x]
pl_y = [pl_cn_y, pl_kcn_y, pl_kscn_y, pl_kbcn_y, pl_kbscn_y]
for i in range(5):
    ax.plot(pl_x[i], pl_y[i], color=LIGHT[i], lw=1.7)
ax.set_xlim(350, 600)
ax.set_ylim(0, 100)
style(ax, 50, 25)
ys = [.940, .860, .780, .699, .619]
line_legend(ax, 0.6115, 0.7234, ys, [.735] * 5, [y - .003 for y in ys])

# (d)
ax = px_axes(213, 1336, 1311, 2214)
ax.set_yscale('log')
cn_all = cn_points + cn_band_edges
cn_t = [p[0] for p in cn_all]
cn_c = [p[1] for p in cn_all]
spheres(ax, cn_t, cn_c, '#5BB5E0', 10, clip_on=False, zorder=2)
red_t = [p[0] for p in kbscn_points]
red_c = [p[1] for p in kbscn_points]
for n, times in enumerate(kbscn_levels):
    red_t = red_t + times
    red_c = red_c + [n + 1] * len(times)
spheres(ax, red_t, red_c, '#E0707A', 10, clip_on=False, zorder=3)
ax.set_xlim(-5, 70)
ax.set_ylim(0.53, 167000)
style(ax, 20, 10)
ax.yaxis.set_minor_locator(NullLocator())
ax.yaxis.set_minor_formatter(NullFormatter())
ax.plot([0, 1], [.874, .874], color='black', lw=1.1, transform=ax.transAxes)
ax.text(.183, .939, 'sample', transform=ax.transAxes, ha='center', va='center')
ax.text(.462, .939, r'$\tau_{1}$ (ns)', transform=ax.transAxes, ha='center', va='center')
ax.text(.650, .939, r'$\tau_{2}$ (ns)', transform=ax.transAxes, ha='center', va='center')
ax.text(.859, .939, r'$\tau_{\mathrm{avg}}$ (ns)', transform=ax.transAxes, ha='center', va='center')
row_y = [.816, .715]
row_col = ['#5BB5E0', '#E0707A']
for i in range(2):
    ax.scatter([.048], [row_y[i]], s=10, color=row_col[i], linewidths=0, transform=ax.transAxes)
    ax.text(.122, row_y[i], table_rows[i], transform=ax.transAxes, ha='left', va='center')
    ax.text(.466, row_y[i], tau1[i], transform=ax.transAxes, ha='center', va='center')
    ax.text(.655, row_y[i], tau2[i], transform=ax.transAxes, ha='center', va='center')
    ax.text(.864, row_y[i], tau_avg[i], transform=ax.transAxes, ha='center', va='center')

# (e)
ax = px_axes(1656, 2781, 1311, 2216)
pc_y = [pc_cn, pc_kcn, pc_kscn, pc_kbcn, pc_kbscn]
for i in range(5):
    ax.plot(pc_time, pc_y[i], color=LIGHT[i], lw=1.6, solid_joinstyle='round')
ax.set_xlim(0, 220)
ax.set_ylim(0, 0.48)
style(ax, 40, 20, 0.1, 0.05)
ax.yaxis.set_major_formatter(lambda v, pos: '%.1f' % v)
line_legend(ax, 0.732, 0.794, [.941, .861, .780, .700, .619],
            [.798, .806, .806, .806, .806], [.950, .869, .789, .708, .627])
ax.text(26.0, 0.416, 'light on', ha='center', va='center')
ax.text(45.3, 0.376, 'light off', ha='center', va='center')
ax.annotate('', xy=(22.3, 0.318), xytext=(22.3, 0.384),
            arrowprops=dict(arrowstyle='-|>', color='black', lw=1.0, mutation_scale=10, shrinkA=0, shrinkB=0))
ax.annotate('', xy=(40.9, 0.282), xytext=(40.9, 0.348),
            arrowprops=dict(arrowstyle='-|>', color='black', lw=1.0, mutation_scale=10, shrinkA=0, shrinkB=0))

# (f)
ax = px_axes(3087, 4218, 1309, 2214)
eis = [eis_cn, eis_kcn, eis_kscn, eis_kbcn, eis_kbscn]
for i in range(5):
    spheres(ax, [p[0] for p in eis[i]], [p[1] for p in eis[i]], LIGHT[i], 56, zorder=2 + i)
ax.set_xlim(0, 93.1)
ax.set_ylim(0, 75)
style(ax, 20, 10, 20, 10)
leg_y = [.361, .280, .199, .119, .0387]
for i in range(5):
    ax.scatter([.7215], [leg_y[i]], s=56, color=LIGHT[i], linewidths=0, transform=ax.transAxes)
    ax.scatter([.7215], [leg_y[i] + .002], s=24, color='white', alpha=.2, linewidths=0, transform=ax.transAxes)
    ax.scatter([.7215], [leg_y[i] + .004], s=6, color='white', alpha=.75, linewidths=0, transform=ax.transAxes)
    ax.text(.794, leg_y[i], SAMPLES[i], transform=ax.transAxes, ha='left', va='center')


# equivalent circuit, positions measured from the axes corner
def cx(z):
    return (z - 209) / 1264


def cy(z):
    return (1267 - z) / 1189


def wire(xs, ys):
    ax.plot([cx(x) for x in xs], [cy(y) for y in ys], color='black', lw=0.9, transform=ax.transAxes, zorder=10)


wire([248, 272, 285, 297, 308, 320, 350], [298, 298, 312, 288, 310, 290, 298])
wire([352, 352], [255, 383])
wire([352, 445], [255, 255])
wire([445, 445], [238, 273])
wire([468, 468], [238, 273])
wire([468, 565, 565], [255, 255, 383])
wire([565, 612], [313, 313])
wire([352, 372, 385, 398, 410, 422, 437, 480], [358, 358, 370, 346, 368, 348, 358, 358])
wire([480, 535, 535, 480, 480], [343, 343, 373, 373, 343])
wire([535, 565], [381, 383])
ax.text(cx(462), cy(176), 'CPE', transform=ax.transAxes, ha='center', va='center', fontsize=14)
ax.text(cx(302), cy(210), r'$R_{\mathrm{s}}$', transform=ax.transAxes, ha='center', va='center', fontsize=15)
ax.text(cx(420), cy(425), r'$R_{\mathrm{ct}}$', transform=ax.transAxes, ha='center', va='center', fontsize=15)
ax.text(cx(525), cy(432), r'$Z_{\mathrm{w}}$', transform=ax.transAxes, ha='center', va='center', fontsize=15)

# axis titles and panel letters
ftext(763, 1173, 'Wavelength\u2009/\u2009nm')
ftext(3647, 1177, 'Wavelength\u2009/\u2009nm')
ftext(766, 2366, 'Time\u2009/\u2009ns')
ftext(2207, 2369, 'Time\u2009/\u2009s')
ftext(3598, 2366, '$Z$\u2032/\u03a9')
ftext(155, 591, 'Absorbance\u2009/\u2009a.u.', rotation=90)
ftext(1506, 672, 'Potential\u2009/\u2009V (vs.  NHE)', rotation=90)
ftext(3030, 589, 'Intensity\u2009/\u2009a.u.', rotation=90)
ftext(145, 1753, 'Intensity\u2009/\u2009a.u.', rotation=90)
ftext(1477, 1790, 'Photocurrent\u2009/\u2009(\u00b5A\u00b7cm$^{-2}$)', rotation=90)
ftext(2938, 1794, '\u2212$Z$\u2033/\u03a9', rotation=90)
letters = ['(a)', '(b)', '(c)', '(d)', '(e)', '(f)']
letter_x = [97, 1532, 2988, 97, 1531, 2972]
letter_y = [105, 106, 108, 1303, 1303, 1303]
for s, x, y in zip(letters, letter_x, letter_y):
    ftext(x, y, s, fontsize=27.5)

fig.savefig('out.png', dpi=300)
